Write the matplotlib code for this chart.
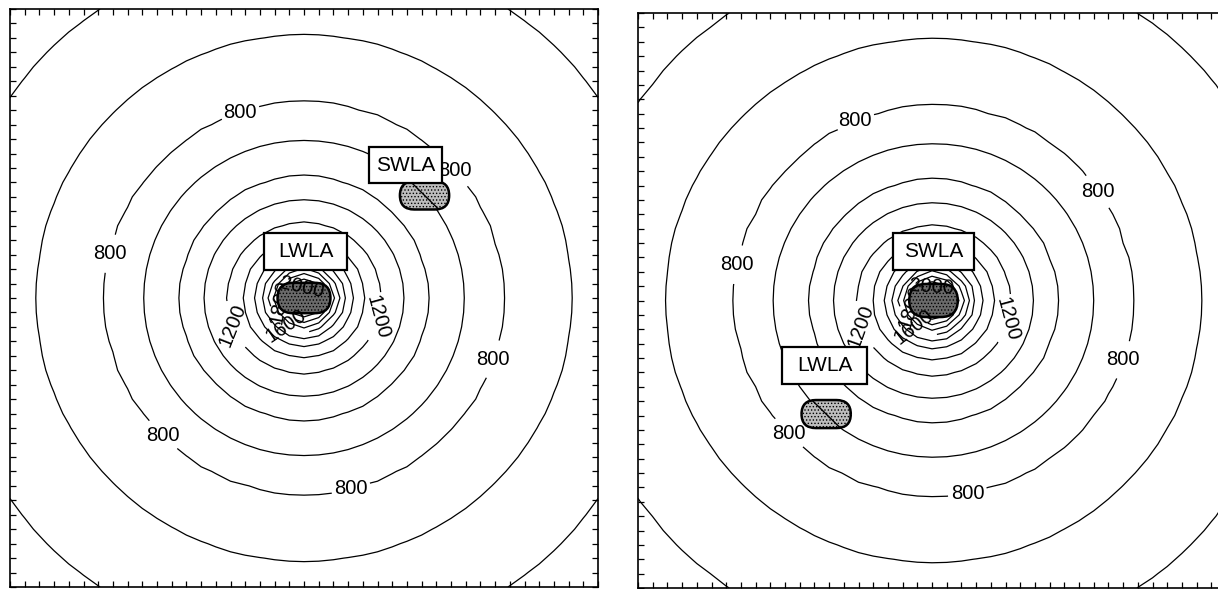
import numpy as np
import matplotlib
matplotlib.use("Agg")
import matplotlib.pyplot as plt
from matplotlib.patches import FancyBboxPatch, Rectangle
from matplotlib.ticker import MultipleLocator

plt.rcParams['font.family'] = ['Liberation Sans', 'DejaVu Sans']
plt.rcParams['hatch.linewidth'] = 0.6

# ---------------- data ----------------
# contour levels and the radius (grid units from the source centre) of each ring
levels = [600, 700, 800, 900, 1000, 1100, 1200, 1300, 1400, 1500, 1600, 1700, 1800, 1900, 2000]
ring_radius = [24.3, 18.2, 13.5, 10.9, 8.4, 6.8, 5.2, 4.1, 3.3, 2.7, 2.3, 2.05, 1.8, 1.4, 0.9]
centre_value = 2300
edge_value = 450
edge_radius = 40.0

grid_size = 40          # grid units per side
grid_step = 1.0

# panel A (LWLA at centre, SWLA off-centre)
a_source = (20.0, 20.0)
a_labels = {
    800: [(15.6, 6.9), (30.4, 11.1), (6.7, 16.9), (32.7, 24.2), (9.9, 30.0), (23.3, 33.5)],
    1200: [(14.8, 22.0), (25.3, 21.4)],
    1600: [(18.7, 22.0)],
    1800: [(18.3, 20.3)],
    2000: [(19.7, 19.1)],
}
a_device = (28.2, 12.9)
a_boxes = [("LWLA", 20.1, 16.8, 5.7), ("SWLA", 26.9, 10.8, 5.0)]

# panel B (SWLA at centre, LWLA off-centre)
b_source = (20.1, 20.0)
b_labels = {
    800: [(14.3, 6.6), (30.7, 12.9), (7.1, 17.6), (33.3, 24.2), (9.9, 29.6), (22.5, 33.8)],
    1200: [(15.0, 21.8), (25.5, 21.4)],
    1600: [(18.6, 22.0)],
    1800: [(18.4, 20.5)],
    2000: [(19.9, 19.0)],
}
b_device = (12.8, 27.9)
b_boxes = [("SWLA", 20.1, 16.6, 5.5), ("LWLA", 12.7, 24.5, 5.8)]

# ---------------- helpers ----------------
prof_r = [0.0] + ring_radius[::-1] + [edge_radius]
prof_v = [centre_value] + levels[::-1] + [edge_value]

gx = np.arange(0, grid_size + grid_step / 2, grid_step)
X, Y = np.meshgrid(gx, gx)


def field(src):
    r = np.hypot(X - src[0], Y - src[1])
    return np.interp(r, prof_r, prof_v)


def style_axes(ax):
    ax.set_xlim(0, grid_size)
    ax.set_ylim(grid_size, 0)
    ax.xaxis.set_major_locator(MultipleLocator(1))
    ax.yaxis.set_major_locator(MultipleLocator(1))
    ax.tick_params(which='both', direction='in', length=4, width=0.9,
                   top=True, right=True, bottom=True, left=True,
                   labelbottom=False, labelleft=False)
    for s in ax.spines.values():
        s.set_linewidth(1.2)


def blob(ax, cx, cy, w, h, fc, z=4, slash=False):
    p = FancyBboxPatch((cx - w / 2, cy - h / 2), w, h,
                       boxstyle=f"round,pad=0,rounding_size={h / 2}",
                       facecolor=fc, edgecolor='k', linewidth=1.8,
                       hatch='.....', zorder=z)
    ax.add_patch(p)
    if slash:
        ax.plot([cx - 0.9, cx + 0.9], [cy - 0.9, cy + 0.9], color='k', lw=1.0, zorder=z + 0.1)


def label_box(ax, text, cx, cy, w, h=2.55):
    ax.add_patch(Rectangle((cx - w / 2, cy - h / 2), w, h, facecolor='white',
                           edgecolor='k', linewidth=1.6, zorder=6))
    ax.text(cx, cy, text, ha='center', va='center', fontsize=15, zorder=7)


fig = plt.figure(figsize=(12.18, 5.89), dpi=100)
axA = fig.add_axes([10 / 1218, 2 / 589, 588 / 1218, 578 / 589])
axB = fig.add_axes([638 / 1218, 1 / 589, 588 / 1218, 575 / 589])

panels = [
    (axA, a_source, a_labels, a_device, a_boxes, (3.6, 2.1)),
    (axB, b_source, b_labels, b_device, b_boxes, (3.3, 2.3)),
]

for ax, src, labs, dev, boxes, csize in panels:
    Z = field(src)
    plain = [lv for lv in levels if lv not in labs]
    ax.contour(X, Y, Z, levels=plain, colors='k', linewidths=0.9, zorder=2)
    for lv, pos in labs.items():
        cs = ax.contour(X, Y, Z, levels=[lv], colors='k', linewidths=0.9, zorder=2)
        texts = ax.clabel(cs, manual=pos, fmt='%d', fontsize=14.5,
                          inline=True, inline_spacing=3)
        for t in texts:
            if lv == 800:
                t.set_rotation(0)
            t.set_zorder(3 if lv == 1800 else 5)
    blob(ax, src[0], src[1], csize[0], csize[1], fc='#6a6a6a', z=4)
    blob(ax, dev[0], dev[1], 3.35, 1.95, fc='#bdbdbd', z=4, slash=True)
    for txt, bx, by, bw in boxes:
        label_box(ax, txt, bx, by, bw)
    style_axes(ax)

fig.savefig("out.png", dpi=100)
